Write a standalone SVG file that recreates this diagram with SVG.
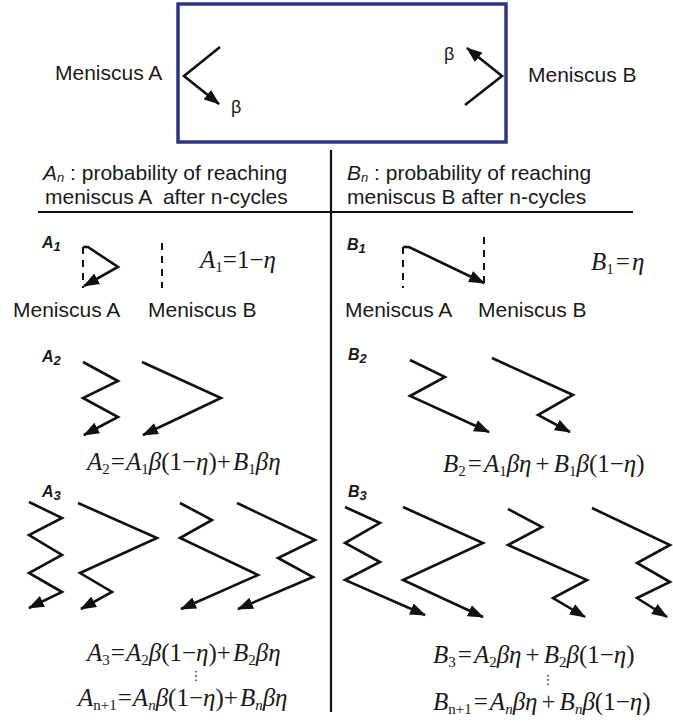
<svg xmlns="http://www.w3.org/2000/svg" width="673" height="723" viewBox="0 0 673 723">
<defs>
<marker id="ah" viewBox="0 0 16 12" refX="15" refY="6" markerWidth="16" markerHeight="12" markerUnits="userSpaceOnUse" orient="auto">
<path d="M0,0 L16,6 L0,12 z" fill="#111"/>
</marker>
<style>
.t{font-family:"Liberation Sans",Arial,sans-serif;font-size:21px;fill:#1a1a1a}
.lb{font-family:"Liberation Sans",Arial,sans-serif;font-size:16px;font-style:italic;font-weight:bold;fill:#1a1a1a}
.lbs{font-size:13px}
.m{font-family:"Liberation Serif","Times New Roman",serif;font-size:25px;fill:#1a1a1a}
.i{font-style:italic}
.s{font-size:15px}
.dots{font-family:"DejaVu Sans",sans-serif;font-size:13px;fill:#1a1a1a}
.ar{fill:none;stroke:#111;stroke-width:2.6;marker-end:url(#ah)}
.dash{stroke:#111;stroke-width:2;stroke-dasharray:7 6}
.rule{stroke:#111;stroke-width:2.2}
</style>
</defs>
<rect width="673" height="723" fill="#fff"/>

<g id="top-box">
<rect x="178" y="4" width="328" height="138" fill="none" stroke="#2f3585" stroke-width="3.5"/>
<text class="t" x="55" y="80">Meniscus A</text>
<text class="t" x="528" y="82">Meniscus B</text>
<polyline class="ar" points="220,47 184,76 219,104"/>
<polyline class="ar" points="465,105 502,76 467,48"/>
<text class="t" x="231" y="113" style="font-size:18px">β</text>
<text class="t" x="444" y="60" style="font-size:18px">β</text>
</g>

<g id="frame">
<line class="rule" x1="331" y1="150" x2="331" y2="712"/>
<line class="rule" x1="38" y1="212" x2="633" y2="212"/>
</g>

<g id="header-A">
<text class="t" x="43" y="180"><tspan class="i">A</tspan><tspan class="i" style="font-size:13px" dy="2">n</tspan><tspan dy="-2"> : probability of reaching</tspan></text>
<text class="t" x="45" y="204" xml:space="preserve">meniscus A  after n-cycles</text>
</g>
<g id="header-B">
<text class="t" x="347" y="180"><tspan class="i">B</tspan><tspan class="i" style="font-size:13px" dy="2">n</tspan><tspan dy="-2"> : probability of reaching</tspan></text>
<text class="t" x="347" y="204">meniscus B after n-cycles</text>
</g>

<g id="row-A1">
<text class="lb" x="42" y="248">A<tspan class="lbs" dy="3">1</tspan></text>
<line class="dash" x1="83" y1="247" x2="83" y2="288"/>
<line class="dash" x1="162" y1="243" x2="162" y2="288"/>
<polyline class="ar" points="83,247 88,247 118,267 84,286"/>
<text class="m" x="200" y="268"><tspan class="i">A</tspan><tspan class="s" dy="4">1</tspan><tspan dy="-4">=1−</tspan><tspan class="i">η</tspan></text>
<text class="t" x="13" y="317">Meniscus A</text>
<text class="t" x="148" y="317">Meniscus B</text>
</g>

<g id="row-B1">
<text class="lb" x="347" y="250">B<tspan class="lbs" dy="3">1</tspan></text>
<line class="dash" x1="403" y1="247" x2="403" y2="288"/>
<line class="dash" x1="484" y1="237" x2="484" y2="288"/>
<polyline class="ar" points="403,247 409,247 484,283"/>
<text class="m" x="591" y="270"><tspan class="i">B</tspan><tspan class="s" dy="4">1</tspan><tspan dy="-4" dx="2">=</tspan><tspan class="i" dx="2">η</tspan></text>
<text class="t" x="345" y="317">Meniscus A</text>
<text class="t" x="478" y="317">Meniscus B</text>
</g>

<g id="row-A2">
<text class="lb" x="42" y="362">A<tspan class="lbs" dy="3">2</tspan></text>
<polyline class="ar" points="83,362 118,381 83,398 118,417 84,435"/>
<polyline class="ar" points="142,362 221,398 143,435"/>
<text class="m" x="87" y="470"><tspan class="i">A</tspan><tspan class="s" dy="4">2</tspan><tspan dy="-4" dx="1">=</tspan><tspan class="i" dx="1">A</tspan><tspan class="s" dy="4">1</tspan><tspan class="i" dy="-4">β</tspan><tspan>(1−</tspan><tspan class="i">η</tspan><tspan>)+</tspan><tspan class="i" dx="2">B</tspan><tspan class="s" dy="4">1</tspan><tspan class="i" dy="-4">βη</tspan></text>
</g>

<g id="row-B2">
<text class="lb" x="348" y="360">B<tspan class="lbs" dy="3">2</tspan></text>
<polyline class="ar" points="410,360 445,377 410,396 489,432"/>
<polyline class="ar" points="492,358 573,395 538,415 570,432"/>
<text class="m" x="443" y="472"><tspan class="i">B</tspan><tspan class="s" dy="4">2</tspan><tspan dy="-4" dx="2">=</tspan><tspan class="i" dx="2">A</tspan><tspan class="s" dy="4">1</tspan><tspan class="i" dy="-4">βη</tspan><tspan dx="4">+</tspan><tspan class="i" dx="4">B</tspan><tspan class="s" dy="4">1</tspan><tspan class="i" dy="-4">β</tspan><tspan>(1−</tspan><tspan class="i">η</tspan><tspan>)</tspan></text>
</g>

<g id="row-A3">
<text class="lb" x="42" y="497">A<tspan class="lbs" dy="3">3</tspan></text>
<polyline class="ar" points="29,502 62,518 29,535 62,555 29,573 62,592 29,608"/>
<polyline class="ar" points="78,503 157,538 80,573 112,592 81,609"/>
<polyline class="ar" points="180,503 212,520 180,538 258,575 181,609"/>
<polyline class="ar" points="237,503 315,540 278,558 313,577 238,609"/>
<text class="m" x="87" y="661"><tspan class="i">A</tspan><tspan class="s" dy="4">3</tspan><tspan dy="-4" dx="1">=</tspan><tspan class="i" dx="1">A</tspan><tspan class="s" dy="4">2</tspan><tspan class="i" dy="-4">β</tspan><tspan>(1−</tspan><tspan class="i">η</tspan><tspan>)+</tspan><tspan class="i" dx="2">B</tspan><tspan class="s" dy="4">2</tspan><tspan class="i" dy="-4">βη</tspan></text>
<text class="dots" x="196" y="680" text-anchor="middle">⋮</text>
<text class="m" x="78" y="706"><tspan class="i">A</tspan><tspan class="s" dy="4">n+1</tspan><tspan dy="-4" dx="1">=</tspan><tspan class="i" dx="1">A</tspan><tspan class="s i" dy="4">n</tspan><tspan class="i" dy="-4">β</tspan><tspan>(1−</tspan><tspan class="i">η</tspan><tspan>)+</tspan><tspan class="i" dx="2">B</tspan><tspan class="s i" dy="4">n</tspan><tspan class="i" dy="-4">βη</tspan></text>
</g>

<g id="row-B3">
<text class="lb" x="348" y="497">B<tspan class="lbs" dy="3">3</tspan></text>
<polyline class="ar" points="345,507 380,523 345,543 380,562 345,580 425,615"/>
<polyline class="ar" points="403,507 483,543 403,580 483,617"/>
<polyline class="ar" points="508,509 542,527 508,545 587,580 553,598 585,617"/>
<polyline class="ar" points="592,508 670,545 637,563 670,582 637,598 667,617"/>
<text class="m" x="433" y="663"><tspan class="i">B</tspan><tspan class="s" dy="4">3</tspan><tspan dy="-4" dx="2">=</tspan><tspan class="i" dx="2">A</tspan><tspan class="s" dy="4">2</tspan><tspan class="i" dy="-4">βη</tspan><tspan dx="4">+</tspan><tspan class="i" dx="4">B</tspan><tspan class="s" dy="4">2</tspan><tspan class="i" dy="-4">β</tspan><tspan>(1−</tspan><tspan class="i">η</tspan><tspan>)</tspan></text>
<text class="dots" x="548" y="684" text-anchor="middle">⋮</text>
<text class="m" x="433" y="710"><tspan class="i">B</tspan><tspan class="s" dy="4">n+1</tspan><tspan dy="-4" dx="2">=</tspan><tspan class="i" dx="2">A</tspan><tspan class="s i" dy="4">n</tspan><tspan class="i" dy="-4">βη</tspan><tspan dx="4">+</tspan><tspan class="i" dx="4">B</tspan><tspan class="s i" dy="4">n</tspan><tspan class="i" dy="-4">β</tspan><tspan>(1−</tspan><tspan class="i">η</tspan><tspan>)</tspan></text>
</g>
</svg>
